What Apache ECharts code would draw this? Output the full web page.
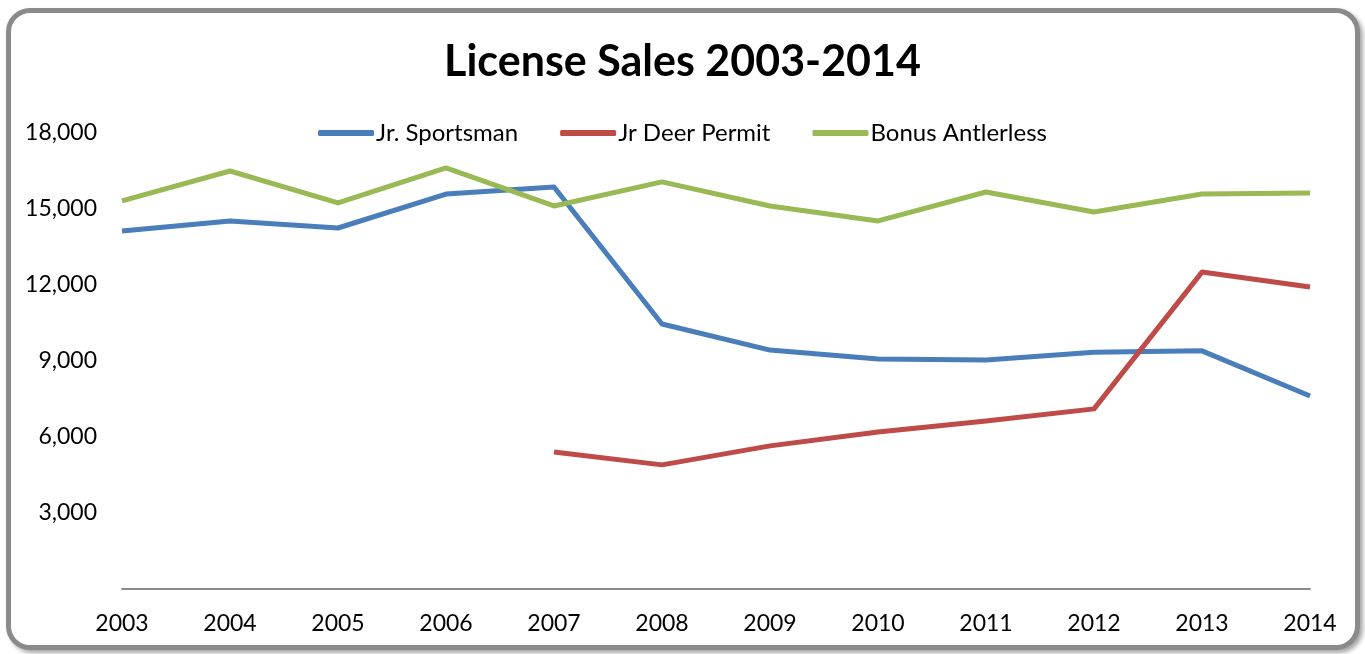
<!DOCTYPE html>
<html>
<head>
<meta charset="utf-8">
<script src="https://cdn.jsdelivr.net/npm/echarts@6/dist/echarts.min.js"></script>
<style>
  html, body { margin: 0; padding: 0; background: #fff; }
  #frame {
    position: absolute; left: 6px; top: 8px; width: 1344px; height: 632px;
    border: 5px solid #8a8a8a; border-radius: 24px; background: #fff;
    box-shadow: 3px 3px 4px rgba(0,0,0,0.35);
  }
  #chart { position: absolute; left: 0; top: 0; width: 1365px; height: 654px; }
</style>
</head>
<body>
<div id="frame"></div>
<div id="chart"></div>
<script>
const years = ['2003','2004','2005','2006','2007','2008','2009','2010','2011','2012','2013','2014'];
const jrSportsman = [14130, 14530, 14250, 15590, 15870, 10460, 9430, 9080, 9040, 9350, 9400, 7620];
const jrDeerPermit = [null, null, null, null, 5410, 4900, 5650, 6200, 6630, 7110, 12510, 11920];
const bonusAntlerless = [15320, 16500, 15240, 16620, 15120, 16070, 15120, 14530, 15670, 14880, 15590, 15630];

const FONT = 'Lato, "Open Sans", sans-serif';
const chart = echarts.init(document.getElementById('chart'));

function lineSeries(name, data, color) {
  return {
    name: name, type: 'line', data: data, showSymbol: false, symbol: 'none',
    connectNulls: false,
    lineStyle: { width: 5, color: color, join: 'round' },
    itemStyle: { color: color }
  };
}

chart.setOption({
  animation: false,
  title: {
    text: 'License Sales 2003-2014', left: 'center', top: 36,
    textStyle: { fontFamily: FONT, fontSize: 43, fontWeight: 'bold', color: '#000' }
  },
  legend: {
    top: 116, left: 'center', itemWidth: 56, itemHeight: 6, itemGap: 42,
    icon: 'roundRect',
    textStyle: { fontFamily: FONT, fontSize: 24, color: '#000', padding: [0, 0, 0, -3] }
  },
  grid: { left: 122, right: 55, top: 133, bottom: 65, containLabel: false },
  xAxis: {
    type: 'category', data: years, boundaryGap: false,
    axisLine: { lineStyle: { color: '#8a8a8a', width: 2 } },
    axisTick: { show: false },
    axisLabel: { fontFamily: FONT, fontSize: 23, color: '#000', margin: 23 }
  },
  yAxis: {
    type: 'value', min: 0, max: 18000, interval: 3000,
    axisLine: { show: false }, axisTick: { show: false }, splitLine: { show: false },
    axisLabel: {
      fontFamily: FONT, fontSize: 23, color: '#000', margin: 25,
      formatter: v => v === 0 ? '' : v.toLocaleString('en-US')
    }
  },
  series: [
    lineSeries('Jr. Sportsman', jrSportsman, '#4a7ebb'),
    lineSeries('Jr Deer Permit', jrDeerPermit, '#be4b48'),
    lineSeries('Bonus Antlerless', bonusAntlerless, '#98b954')
  ]
});
</script>
</body>
</html>
